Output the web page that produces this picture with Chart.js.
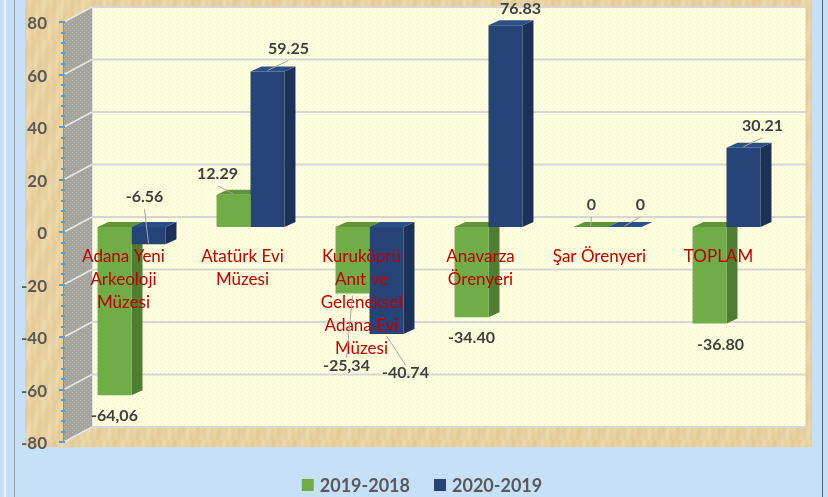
<!DOCTYPE html>
<html>
<head>
<meta charset="utf-8">
<script src="https://cdn.jsdelivr.net/npm/chart.js@4/dist/chart.umd.min.js"></script>
<style>
  html, body { margin: 0; padding: 0; background: #c6e0f7; }
  #wrap { width: 828px; height: 497px; }
</style>
</head>
<body>
<div id="wrap"><canvas id="chart" width="828" height="497"></canvas></div>
<script>
// ---- data ----
const categories = [
    ['Adana Yeni', 'Arkeoloji', 'Müzesi'],
    ['Atatürk Evi', 'Müzesi'],
    ['Kuruköprü', 'Anıt ve', 'Geleneksel', 'Adana Evi', 'Müzesi'],
    ['Anavarza', 'Örenyeri'],
    ['Şar Örenyeri'],
    ['TOPLAM']
];
const seriesNames = ['2019-2018', '2020-2019'];
const values2019 = [-64.06, 12.29, -25.34, -34.40, 0, -36.80];
const values2020 = [-6.56, 59.25, -40.74, 76.83, 0, 30.21];
const labels2019 = ['-64,06', '12.29', '-25,34', '-34.40', '0', '-36.80'];
const labels2020 = ['-6.56', '59.25', '-40.74', '76.83', '0', '30.21'];
const yTicks = [-80, -60, -40, -20, 0, 20, 40, 60, 80];

// ---- styling ----
const FONT = "Lato, 'Open Sans', sans-serif";
const colors = [
    { front: '#70ad47', side: '#4f7d31', top: '#5e953b' },
    { front: '#264478', side: '#1b3158', top: '#2d4f88' }
];
// label offset from the bar end [dx, dy, leader line]
const labelPos = [
    [[0, 21, false], [-16, -21, true], [-6, 72, true], [0, 21, false], [1, -22, true], [11, 21, false]],
    [[-4, -47, true], [21, -23, true], [19, 39, true], [15, -16, false], [16, -22, true], [19, -22, true]]
];
const FRONT = { dx: -10, dy: 5 };   // front plane (axis) offset from bar plane
const BACK = { dx: 20, dy: -10 };   // back wall offset from bar plane
const DEPTH = { dx: 11, dy: -5 };   // bar depth

function makePattern(ctx, w, h, draw) {
    const c = document.createElement('canvas');
    c.width = w; c.height = h;
    draw(c.getContext('2d'), w, h);
    return ctx.createPattern(c, 'repeat');
}

function poly(ctx, pts, fill) {
    ctx.beginPath();
    ctx.moveTo(pts[0][0], pts[0][1]);
    for (let i = 1; i < pts.length; i++) ctx.lineTo(pts[i][0], pts[i][1]);
    ctx.closePath();
    ctx.fillStyle = fill;
    ctx.fill();
}

function drawExtrusion(chart, dsIndex) {
    const ctx = chart.ctx;
    const meta = chart.getDatasetMeta(dsIndex);
    const col = colors[dsIndex];
    meta.data.forEach(bar => {
        const p = bar.getProps(['x', 'y', 'base', 'width'], true);
        const x0 = p.x - p.width / 2, x1 = p.x + p.width / 2;
        const yT = Math.min(p.y, p.base), yB = Math.max(p.y, p.base);
        const dx = DEPTH.dx, dy = DEPTH.dy;
        poly(ctx, [[x1, yT], [x1 + dx, yT + dy], [x1 + dx, yB + dy], [x1, yB]], col.side);
        poly(ctx, [[x0, yT], [x1, yT], [x1 + dx, yT + dy], [x0 + dx, yT + dy]], col.top);
    });
}

const scenePlugin = {
    id: 'scene',
    beforeDraw(chart) {
        const ctx = chart.ctx;
        ctx.save();
        ctx.fillStyle = '#c6e0f7';
        ctx.fillRect(0, 0, 828, 497);
        // window frame lines
        ctx.fillStyle = '#eaf4fc';
        ctx.fillRect(4, 0, 2, 497);
        ctx.fillStyle = '#8fa3b6';
        ctx.fillRect(14, 0, 1, 497);
        ctx.fillStyle = '#55626e';
        ctx.fillRect(822, 0, 1, 497);
        // parchment
        ctx.fillStyle = makePattern(ctx, 60, 40, (g, w, h) => {
            g.fillStyle = '#e8d1a0';
            g.fillRect(0, 0, w, h);
            for (let x = 0; x < w; x++) {
                for (let yy = 0; yy < h; yy += 2) {
                    const s = Math.sin(x * 0.9 + yy * 0.05) * 0.5 + Math.sin(x * 0.31 + yy * 0.17) * 0.5;
                    g.fillStyle = s > 0 ? 'rgba(250,238,205,' + (s * 0.3) + ')' : 'rgba(200,165,105,' + (-s * 0.15) + ')';
                    g.fillRect(x, yy, 1, 2);
                }
            }
        });
        ctx.fillRect(25, 0, 787, 447);
        ctx.restore();
    },
    beforeDatasetsDraw(chart) {
        const ctx = chart.ctx;
        const a = chart.chartArea;
        const y = chart.scales.y;
        const top = y.getPixelForValue(80), bot = y.getPixelForValue(-80);
        const fx = a.left + FRONT.dx, bx = a.left + BACK.dx, rx = a.right + BACK.dx;
        ctx.save();
        // back wall
        ctx.fillStyle = makePattern(ctx, 4, 4, (g, w, h) => {
            g.fillStyle = '#fffee6';
            g.fillRect(0, 0, w, h);
            g.fillStyle = '#f6f3b8';
            g.fillRect(0, 0, 1, 1);
            g.fillRect(2, 2, 1, 1);
        });
        ctx.fillRect(bx, top + BACK.dy, rx - bx, bot - top);
        ctx.strokeStyle = '#e4e4e4';
        ctx.lineWidth = 1;
        ctx.strokeRect(bx + 0.5, top + BACK.dy + 0.5, rx - bx - 1, bot - top - 1);
        // side wall
        const sidePat = makePattern(ctx, 4, 4, (g, w, h) => {
            g.fillStyle = '#a4a49d';
            g.fillRect(0, 0, w, h);
            g.fillStyle = '#b8b8b0';
            g.fillRect(0, 0, 1, 1);
            g.fillRect(2, 2, 1, 1);
        });
        poly(ctx, [[fx + 2, top + FRONT.dy], [bx, top + BACK.dy], [bx, bot + BACK.dy], [fx + 2, bot + FRONT.dy]], sidePat);
        // grid lines on back and side walls
        yTicks.forEach(v => {
            const py = y.getPixelForValue(v);
            ctx.strokeStyle = '#d6d6d6';
            ctx.lineWidth = 2;
            ctx.beginPath();
            ctx.moveTo(bx, py + BACK.dy);
            ctx.lineTo(rx, py + BACK.dy);
            ctx.stroke();
            ctx.strokeStyle = '#e8e8e4';
            ctx.lineWidth = 1.5;
            ctx.beginPath();
            ctx.moveTo(fx + 2, py + FRONT.dy);
            ctx.lineTo(bx, py + BACK.dy);
            ctx.stroke();
        });
        // axis with blue ticks
        ctx.strokeStyle = '#5b9bd5';
        ctx.lineWidth = 1;
        ctx.beginPath();
        ctx.moveTo(fx + 1.5, top + FRONT.dy);
        ctx.lineTo(fx + 1.5, bot + FRONT.dy);
        ctx.stroke();
        ctx.lineWidth = 2;
        for (let v = -80; v <= 80; v += 4) {
            const py = Math.round(y.getPixelForValue(v) + FRONT.dy);
            const major = v % 20 === 0;
            ctx.beginPath();
            ctx.moveTo(fx - (major ? 3 : 1), py);
            ctx.lineTo(fx + 3, py);
            ctx.stroke();
        }
        // tick labels
        ctx.fillStyle = '#595959';
        ctx.font = 'bold 17px ' + FONT;
        ctx.textAlign = 'right';
        ctx.textBaseline = 'middle';
        yTicks.forEach(v => {
            ctx.fillText(String(v), fx - 15, y.getPixelForValue(v) + FRONT.dy + 2);
        });
        // first series extrusion sits behind the second series' front faces
        drawExtrusion(chart, 0);
        ctx.restore();
    },
    afterDatasetsDraw(chart) {
        const ctx = chart.ctx;
        const y = chart.scales.y;
        const x = chart.scales.x;
        ctx.save();
        drawExtrusion(chart, 1);

        // category labels
        ctx.fillStyle = '#c00000';
        ctx.font = '17px ' + FONT;
        ctx.textAlign = 'center';
        ctx.textBaseline = 'middle';
        const zeroY = y.getPixelForValue(0) + FRONT.dy;
        categories.forEach((lines, i) => {
            const cx = x.getPixelForValue(i) - 8;
            lines.forEach((ln, k) => ctx.fillText(ln, cx, zeroY + 25 + k * 23));
        });

        // data labels with leader lines
        const texts = [labels2019, labels2020];
        ctx.font = 'bold 16px ' + FONT;
        [0, 1].forEach(ds => {
            chart.getDatasetMeta(ds).data.forEach((bar, i) => {
                const p = bar.getProps(['x', 'y'], true);
                const [dx, dy, leader] = labelPos[ds][i];
                const lx = p.x + dx, ly = p.y + dy;
                if (leader) {
                    const ey = dy < 0 ? ly + 12 : ly - 8;
                    ctx.strokeStyle = '#a6a6a6';
                    ctx.lineWidth = 1;
                    ctx.beginPath();
                    ctx.moveTo(lx, ey);
                    ctx.lineTo(p.x, p.y + (dy < 0 ? -1 : 2));
                    ctx.stroke();
                }
                ctx.fillStyle = '#404040';
                ctx.fillText(texts[ds][i], lx, ly);
            });
        });

        // legend
        ctx.font = 'bold 18px ' + FONT;
        ctx.textAlign = 'left';
        const widths = seriesNames.map(n => 12 + 6 + ctx.measureText(n).width);
        const total = widths[0] + 24 + widths[1];
        let lx = 422 - total / 2;
        const ly = 485;
        seriesNames.forEach((n, i) => {
            ctx.fillStyle = colors[i].front;
            ctx.fillRect(lx, ly - 6, 12, 12);
            ctx.fillStyle = '#595959';
            ctx.fillText(n, lx + 18, ly + 1);
            lx += widths[i] + 24;
        });
        ctx.restore();
    }
};

new Chart(document.getElementById('chart'), {
    type: 'bar',
    data: {
        labels: categories,
        datasets: [
            { label: seriesNames[0], data: values2019, backgroundColor: colors[0].front },
            { label: seriesNames[1], data: values2020, backgroundColor: colors[1].front }
        ]
    },
    options: {
        responsive: false,
        animation: false,
        layout: { padding: { left: 72, right: 42, top: 17, bottom: 60 } },
        datasets: {
            bar: { categoryPercentage: 0.571, barPercentage: 1.0, borderWidth: 0 }
        },
        plugins: {
            legend: { display: false },
            tooltip: { enabled: false }
        },
        scales: {
            x: { display: false },
            y: { display: false, min: -80, max: 80 }
        }
    },
    plugins: [scenePlugin]
});
</script>
</body>
</html>
